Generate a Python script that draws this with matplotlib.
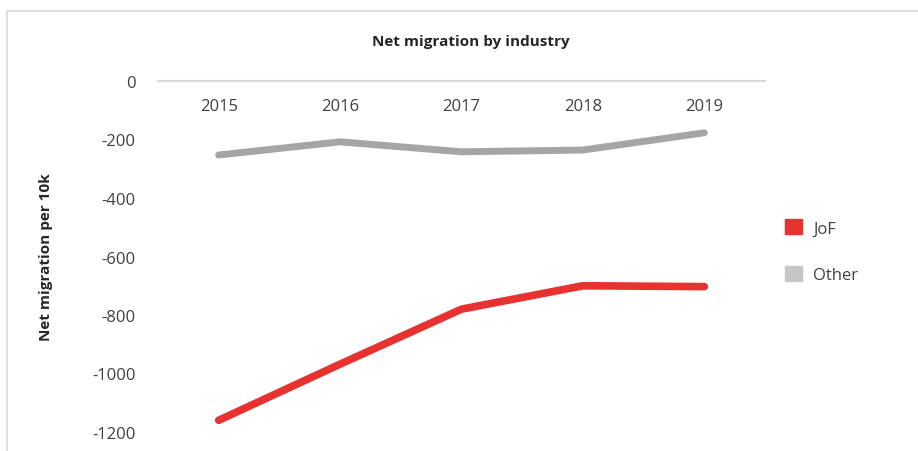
import matplotlib.pyplot as plt
from matplotlib.patches import Patch, Rectangle

years = ['2015', '2016', '2017', '2018', '2019']
jof = [-1160, -968, -780, -700, -703]
other = [-253, -208, -242, -236, -177]
yticks = [0, -200, -400, -600, -800, -1000, -1200]

plt.rcParams['font.family'] = ['Open Sans', 'DejaVu Sans']

fig = plt.figure(figsize=(9.18, 4.52), dpi=100)
ax = fig.add_axes([158/918, 1-433/452, (765-158)/918, (433-82)/452])

x = list(range(len(years)))
ax.plot(x, other, color='#a5a5a5', lw=5, solid_capstyle='round', solid_joinstyle='round')
ax.plot(x, jof, color='#e8322f', lw=5.5, solid_capstyle='round', solid_joinstyle='round')

ax.set_xlim(-0.5, len(years)-0.5)
ax.set_ylim(-1200, 0)
ax.set_xticks(x)
ax.set_xticklabels(years)
ax.set_yticks(yticks)
ax.set_yticklabels([str(v) for v in yticks])

for s in ['left', 'right', 'top']:
    ax.spines[s].set_visible(False)
ax.spines['bottom'].set_position(('data', 0))
ax.spines['bottom'].set_color('#d9d9d9')
ax.spines['bottom'].set_linewidth(1.5)
ax.tick_params(axis='both', length=0, labelsize=12, labelcolor='#404040')
ax.tick_params(axis='y', pad=16)
ax.tick_params(axis='x', pad=12)

ax.set_ylabel('Net migration per 10k', fontsize=11, fontweight='bold', color='#262626', labelpad=28)
fig.text(471/918, 1-42/452, 'Net migration by industry', ha='center', va='center',
         fontsize=11, fontweight='bold', color='#262626')

handles = [Patch(color='#e8322f', label='JoF'), Patch(color='#c6c6c6', label='Other')]
fig.legend(handles=handles, loc='center left', bbox_to_anchor=(770/918, 1-252/452),
           frameon=False, fontsize=12, handlelength=1.0, handleheight=1.0,
           labelspacing=1.75, handletextpad=0.7, labelcolor='#404040')

fig.patches.append(Rectangle((7/918, -0.2), 1.2, 1.2-12/452, transform=fig.transFigure,
                             fill=False, edgecolor='#d9d9d9', lw=1.2))

fig.savefig('out.png', dpi=100)
